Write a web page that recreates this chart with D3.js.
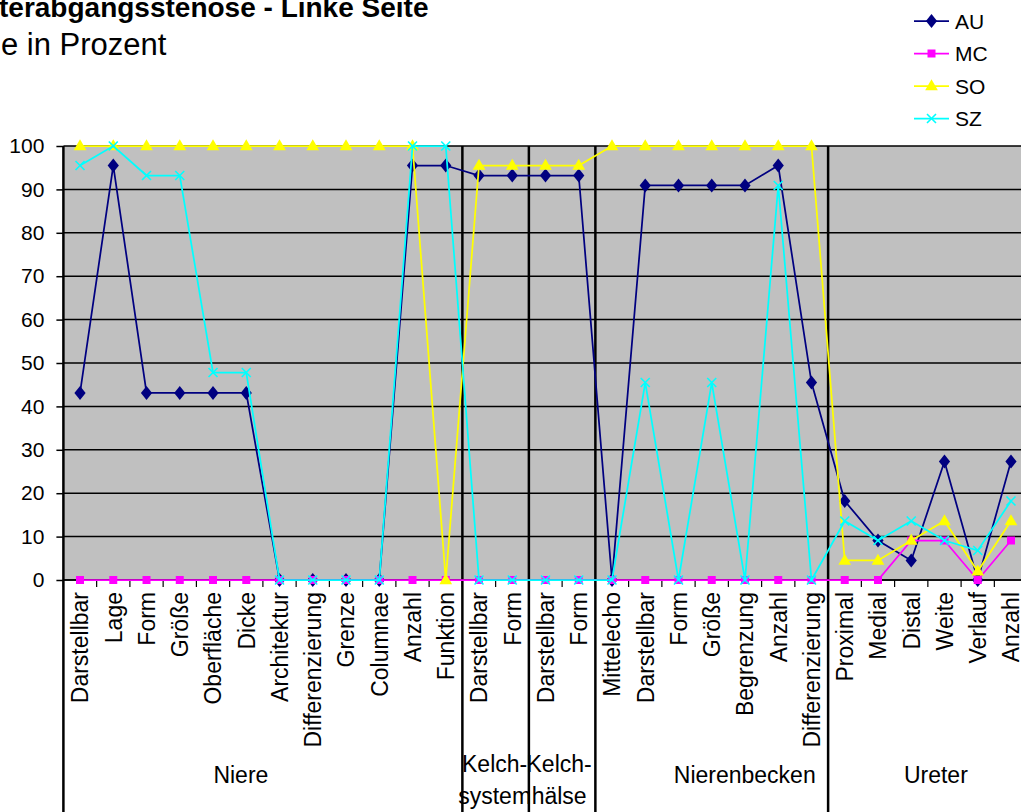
<!DOCTYPE html>
<html>
<head>
<meta charset="utf-8">
<script src="https://cdn.jsdelivr.net/npm/d3@7"></script>
<style>
  html, body { margin: 0; padding: 0; background: #fff; overflow: hidden; }
  svg { display: block; font-family: "Liberation Sans", Arial, sans-serif; }
</style>
</head>
<body>
<svg id="chart" width="1021" height="812"></svg>
<script>
// Category axis: groups and their sub-categories
const groupNames = [["Niere"], ["Kelch-", "system"], ["Kelch-", "hälse"], ["Nierenbecken"], ["Ureter"]];
const groupSizes = [12, 2, 2, 7, 6];
const categories = [
  "Darstellbar", "Lage", "Form", "Größe", "Oberfläche", "Dicke", "Architektur",
  "Differenzierung", "Grenze", "Columnae", "Anzahl", "Funktion",
  "Darstellbar", "Form",
  "Darstellbar", "Form",
  "Mittelecho", "Darstellbar", "Form", "Größe", "Begrenzung", "Anzahl", "Differenzierung",
  "Proximal", "Medial", "Distal", "Weite", "Verlauf", "Anzahl"
];

// Series (percent)
const seriesNames = ["AU", "MC", "SO", "SZ"];
const au = [43.1, 95.5, 43.1, 43.1, 43.1, 43.1, 0, 0, 0, 0, 95.5, 95.5,
            93.2, 93.2,
            93.2, 93.2,
            0, 90.9, 90.9, 90.9, 90.9, 95.5, 45.5,
            18.2, 9.1, 4.5, 27.3, 0, 27.3];
const mc = [0, 0, 0, 0, 0, 0, 0, 0, 0, 0, 0, 0,
            0, 0,
            0, 0,
            0, 0, 0, 0, 0, 0, 0,
            0, 0, 9.1, 9.1, 0, 9.1];
const so = [100, 100, 100, 100, 100, 100, 100, 100, 100, 100, 100, 0,
            95.5, 95.5,
            95.5, 95.5,
            100, 100, 100, 100, 100, 100, 100,
            4.5, 4.5, 9.1, 13.6, 2.0, 13.6];
const sz = [95.5, 100, 93.2, 93.2, 47.8, 47.8, 0, 0, 0, 0, 100, 100,
            0, 0,
            0, 0,
            0, 45.5, 0, 45.5, 0, 90.9, 0,
            13.6, 9.1, 13.6, 9.1, 6.8, 18.2];

const yTicks = [0, 10, 20, 30, 40, 50, 60, 70, 80, 90, 100];
const titleLines = ["terabgangsstenose - Linke Seite", "e in Prozent"];

// ---- drawing ----
const svg = d3.select("#chart");
const plot = { left: 63.4, right: 1027.6, top: 146, bottom: 580 };
const H = 812;

const x = d3.scaleBand().domain(d3.range(categories.length)).range([plot.left, plot.right]).padding(0);
const bw = x.bandwidth();
const cx = i => x(i) + bw / 2;
const y = d3.scaleLinear().domain([0, 100]).range([plot.bottom, plot.top]);

// plot background
svg.append("rect")
  .attr("x", plot.left).attr("y", plot.top)
  .attr("width", plot.right - plot.left).attr("height", plot.bottom - plot.top)
  .attr("fill", "#c0c0c0");

// horizontal gridlines
svg.append("g").selectAll("line").data(yTicks).join("line")
  .attr("x1", plot.left).attr("x2", plot.right)
  .attr("y1", d => y(d)).attr("y2", d => y(d))
  .attr("stroke", "#000").attr("stroke-width", 1.5);

// y axis
const yAxis = d3.axisLeft(y).tickValues(yTicks).tickSize(7).tickPadding(12);
const yg = svg.append("g").attr("transform", `translate(${plot.left},0)`).call(yAxis);
yg.select(".domain").remove();
yg.selectAll(".tick line").attr("stroke", "#000").attr("stroke-width", 1.5);
yg.selectAll(".tick text").attr("font-size", 21).attr("fill", "#000")
  .attr("font-family", "Liberation Sans, Arial, sans-serif");

// x axis ticks at category boundaries
const bounds = d3.range(categories.length + 1).map(i => plot.left + i * bw);
svg.append("g").selectAll("line").data(bounds).join("line")
  .attr("x1", d => d).attr("x2", d => d)
  .attr("y1", plot.bottom).attr("y2", plot.bottom + 7)
  .attr("stroke", "#000").attr("stroke-width", 1.2);
svg.append("line")
  .attr("x1", plot.left).attr("x2", plot.right)
  .attr("y1", plot.bottom).attr("y2", plot.bottom)
  .attr("stroke", "#000").attr("stroke-width", 1.5);

// group separators (through plot and label area) and left axis line
let acc = 0;
const groupStarts = groupSizes.map(n => { const s = acc; acc += n; return s; });
const sepIdx = [0].concat(groupStarts.slice(1));
svg.append("g").selectAll("line").data(sepIdx).join("line")
  .attr("x1", i => plot.left + i * bw).attr("x2", i => plot.left + i * bw)
  .attr("y1", plot.top).attr("y2", H)
  .attr("stroke", "#000").attr("stroke-width", 2.5);

// category labels (rotated)
svg.append("g").selectAll("text").data(categories).join("text")
  .attr("transform", (d, i) => `translate(${cx(i)},${plot.bottom + 12}) rotate(-90)`)
  .attr("text-anchor", "end")
  .attr("dy", "0.36em")
  .attr("font-size", 23)
  .attr("fill", "#000")
  .text(d => d);

// group labels
const groupShift = [-22, -1, -3, 33, 8];
groupNames.forEach((lines, g) => {
  const gx = plot.left + (groupStarts[g] + groupSizes[g] / 2) * bw + groupShift[g];
  const baseY = lines.length === 1 ? 783 : 772;
  lines.forEach((ln, k) => {
    svg.append("text")
      .attr("x", gx).attr("y", baseY + k * 32)
      .attr("text-anchor", "middle")
      .attr("font-size", 23)
      .attr("fill", "#000")
      .text(ln);
  });
});

// series
const seriesData = [au, mc, so, sz];
const colors = ["#000080", "#ff00ff", "#ffff00", "#00ffff"];
const symbols = [d3.symbolDiamond, d3.symbolSquare, d3.symbolTriangle, null];

function marker(sel, k, px, py) {
  if (k === 3) {
    const s = 4.5;
    sel.append("path")
      .attr("d", `M${px - s},${py - s}L${px + s},${py + s}M${px - s},${py + s}L${px + s},${py - s}`)
      .attr("stroke", colors[k]).attr("stroke-width", 1.6).attr("fill", "none");
  } else {
    const sizes = [70, 64, 70];
    sel.append("path")
      .attr("d", d3.symbol().type(symbols[k]).size(sizes[k])())
      .attr("transform", `translate(${px},${py + (k === 2 ? 0.5 : 0)})${k === 0 ? " scale(1.25,0.9)" : ""}`)
      .attr("fill", colors[k]);
  }
}

const line = d3.line().x((d, i) => cx(i)).y(d => y(d));
seriesData.forEach((vals, k) => {
  const g = svg.append("g");
  g.append("path").attr("d", line(vals))
    .attr("fill", "none").attr("stroke", colors[k]).attr("stroke-width", 1.75);
  vals.forEach((v, i) => marker(g, k, cx(i), y(v)));
});

// legend
const legend = svg.append("g");
seriesNames.forEach((name, k) => {
  const ly = 21 + k * 32.5;
  legend.append("line").attr("x1", 914).attr("x2", 949).attr("y1", ly).attr("y2", ly)
    .attr("stroke", colors[k]).attr("stroke-width", 1.75);
  marker(legend, k, 931.5, ly);
  legend.append("text").attr("x", 955).attr("y", ly + 7.5)
    .attr("font-size", 21).attr("fill", "#000").text(name);
});

// title
svg.append("text").attr("x", -1).attr("y", 17)
  .attr("font-size", 28).attr("font-weight", "bold").attr("fill", "#000")
  .text(titleLines[0]);
svg.append("text").attr("x", 1).attr("y", 55)
  .attr("font-size", 31).attr("fill", "#000")
  .text(titleLines[1]);
</script>
</body>
</html>
